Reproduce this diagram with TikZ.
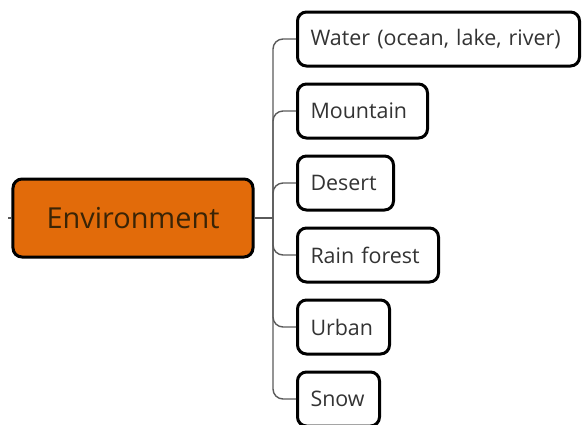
\documentclass[tikz,border=0pt]{standalone}
\usepackage{fontspec}
\setmainfont{Open Sans}
\definecolor{envorange}{HTML}{E26B0A}
\definecolor{envtext}{HTML}{3A2406}
\definecolor{leaftext}{HTML}{333333}
\definecolor{linkgray}{HTML}{5A5A5A}
\begin{document}
\begin{tikzpicture}[x=1bp,y=-1bp,
  rootbox/.style={draw=black, line width=3bp, rounded corners=9bp, fill=envorange,
    minimum width=240bp, minimum height=78bp, inner sep=0pt,
    text=envtext, font=\fontsize{29}{33}\selectfont},
  leafbox/.style={draw=black, line width=3bp, rounded corners=9bp, fill=white,
    minimum height=54bp, inner xsep=13bp, inner ysep=0pt, anchor=west,
    text width=#1, align=left,
    text=leaftext, font=\fontsize{21.5}{25}\selectfont},
  link/.style={draw=linkgray, line width=1.4bp, rounded corners=10bp}]
\useasboundingbox (0,0) rectangle (584,424);

% root topic
\node[rootbox] (env) at (133,218) {Environment};
\coordinate (stub) at (8,218);
\coordinate (junction) at (273,218);

% subtopics (text width = box width - 26bp)
\node[leafbox=256bp] (water)    at (296,39)  {\mbox{Water (ocean, lake, river)}};
\node[leafbox=104bp] (mountain) at (296,111) {Mountain};
\node[leafbox=70bp]  (desert)   at (296,183) {Desert};
\node[leafbox=115bp] (rain)     at (296,255) {\mbox{Rain forest}};
\node[leafbox=66bp]  (urban)    at (296,327) {Urban};
\node[leafbox=56bp]  (snow)     at (296,399) {Snow};

% connectors
\draw[link] (stub) -- (env.west);
\draw[link] (env.east) -- (junction);
\foreach \leaf in {water,mountain,desert,rain,urban,snow}
  \draw[link] (junction) |- (\leaf.west);
\end{tikzpicture}
\end{document}
